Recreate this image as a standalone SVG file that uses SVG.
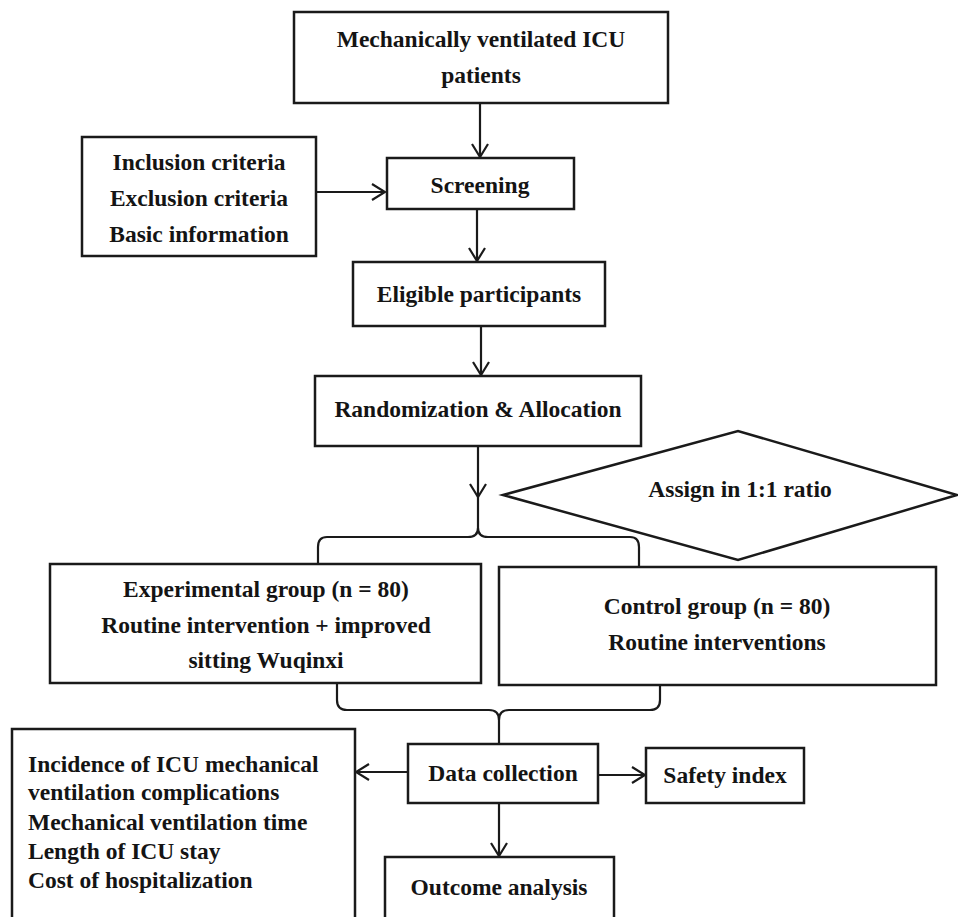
<svg xmlns="http://www.w3.org/2000/svg" width="958" height="917" viewBox="0 0 958 917">
<defs>
<style>
.box{fill:#fff;stroke:#1a1a1a;stroke-width:2.5}
.ln{fill:none;stroke:#1a1a1a;stroke-width:2.2}
.t{font-family:"Liberation Serif","Times New Roman",serif;font-weight:bold;font-size:23.5px;fill:#141414;text-anchor:middle}
.tl{text-anchor:start}
</style>
<marker id="arr" viewBox="-15 -10 17 20" refX="0" refY="0" markerWidth="17" markerHeight="20" orient="auto" markerUnits="userSpaceOnUse">
<path d="M -13 -8 L 0 0 L -13 8" fill="none" stroke="#1a1a1a" stroke-width="2.2"/>
</marker>
</defs>
<rect width="958" height="917" fill="#fff"/>

<g id="connectors">
<line class="ln" x1="480" y1="103" x2="480" y2="157" marker-end="url(#arr)"/>
<line class="ln" x1="316" y1="192" x2="385" y2="192" marker-end="url(#arr)"/>
<line class="ln" x1="477" y1="209" x2="477" y2="261" marker-end="url(#arr)"/>
<line class="ln" x1="481" y1="326" x2="481" y2="375" marker-end="url(#arr)"/>
<line class="ln" x1="478" y1="446" x2="478" y2="497" marker-end="url(#arr)"/>
<path class="ln" d="M 478 497 V 528 Q 478 537 468 537 H 327 Q 318 537 318 547 V 564"/>
<path class="ln" d="M 478 528 Q 478 537 488 537 H 630 Q 639 537 639 547 V 567"/>
<path class="ln" d="M 337 683 V 700 Q 337 710 347 710 H 489 Q 499 710 499 720 V 744"/>
<path class="ln" d="M 660 685 V 700 Q 660 710 650 710 H 509 Q 499 710 499 720"/>
<line class="ln" x1="408" y1="772" x2="356" y2="772" marker-end="url(#arr)"/>
<line class="ln" x1="598" y1="775" x2="645" y2="775" marker-end="url(#arr)"/>
<line class="ln" x1="499" y1="803" x2="499" y2="856" marker-end="url(#arr)"/>
</g>

<g id="n-patients">
<rect class="box" x="294" y="12" width="374" height="91"/>
<text class="t" x="481" y="47">Mechanically ventilated ICU</text>
<text class="t" x="481" y="83">patients</text>
</g>

<g id="n-criteria">
<rect class="box" x="82" y="137" width="234" height="119"/>
<text class="t" x="199" y="170">Inclusion criteria</text>
<text class="t" x="199" y="206">Exclusion criteria</text>
<text class="t" x="199" y="242">Basic information</text>
</g>

<g id="n-screening">
<rect class="box" x="387" y="158" width="187" height="51"/>
<text class="t" x="480" y="193">Screening</text>
</g>

<g id="n-eligible">
<rect class="box" x="353" y="262" width="252" height="64"/>
<text class="t" x="479" y="302">Eligible participants</text>
</g>

<g id="n-random">
<rect class="box" x="315" y="376" width="326" height="70"/>
<text class="t" x="478" y="417">Randomization &amp; Allocation</text>
</g>

<g id="n-assign">
<polygon class="box" points="503,495 738,431 957,495 738,560"/>
<text class="t" x="740" y="497">Assign in 1:1 ratio</text>
</g>

<g id="n-experimental">
<rect class="box" x="50" y="564" width="431" height="119"/>
<text class="t" x="266" y="597">Experimental group (n = 80)</text>
<text class="t" x="266" y="633">Routine intervention + improved</text>
<text class="t" x="266" y="668">sitting Wuqinxi</text>
</g>

<g id="n-control">
<rect class="box" x="499" y="567" width="437" height="118"/>
<text class="t" x="717" y="614">Control group (n = 80)</text>
<text class="t" x="717" y="650">Routine interventions</text>
</g>

<g id="n-outcomes">
<rect class="box" x="12" y="729" width="343" height="210"/>
<text class="t tl" x="28" y="772">Incidence of ICU mechanical</text>
<text class="t tl" x="28" y="800">ventilation complications</text>
<text class="t tl" x="28" y="830">Mechanical ventilation time</text>
<text class="t tl" x="28" y="859">Length of ICU stay</text>
<text class="t tl" x="28" y="888">Cost of hospitalization</text>
</g>

<g id="n-data">
<rect class="box" x="408" y="744" width="190" height="59"/>
<text class="t" x="503" y="781">Data collection</text>
</g>

<g id="n-safety">
<rect class="box" x="646" y="748" width="158" height="55"/>
<text class="t" x="725" y="783">Safety index</text>
</g>

<g id="n-outcome">
<rect class="box" x="385" y="857" width="229" height="80"/>
<text class="t" x="499" y="895">Outcome analysis</text>
</g>
</svg>
